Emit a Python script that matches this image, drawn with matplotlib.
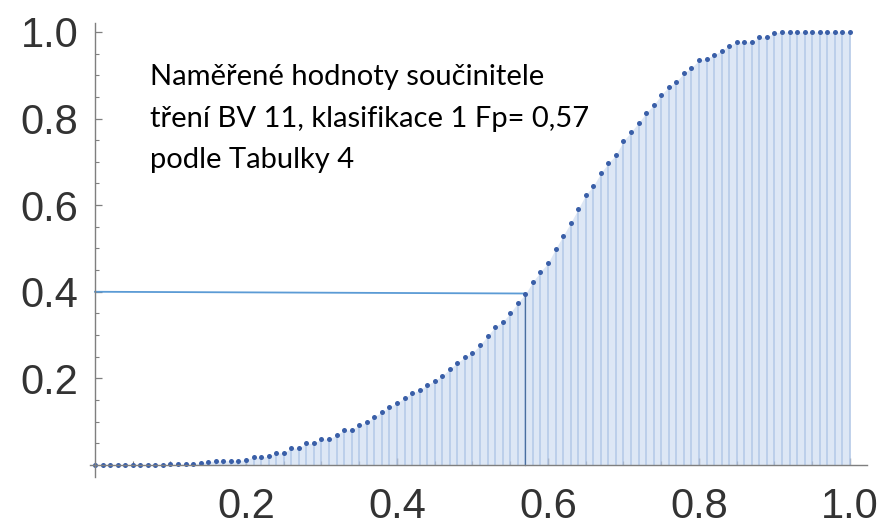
import numpy as np
import matplotlib.pyplot as plt
from matplotlib.ticker import MultipleLocator

# measured values (x step 0.01)
x_vals = np.round(np.arange(0, 101) * 0.01, 2)
y_vals = [
    0.0, 0.0, 0.0, 0.0, 0.0, 0.0, 0.0, 0.0, 0.0, 0.0,
    0.002, 0.002, 0.003, 0.003, 0.005, 0.008, 0.009, 0.010, 0.010, 0.010,
    0.012, 0.018, 0.018, 0.020, 0.028, 0.028, 0.039, 0.039, 0.050, 0.050,
    0.060, 0.060, 0.069, 0.081, 0.081, 0.092, 0.099, 0.111, 0.122, 0.134,
    0.143, 0.155, 0.166, 0.173, 0.185, 0.194, 0.206, 0.222, 0.236, 0.249,
    0.259, 0.277, 0.298, 0.319, 0.330, 0.351, 0.374, 0.395, 0.423, 0.446,
    0.466, 0.499, 0.529, 0.559, 0.591, 0.624, 0.644, 0.674, 0.697, 0.716,
    0.748, 0.769, 0.790, 0.813, 0.831, 0.855, 0.873, 0.885, 0.905, 0.917,
    0.935, 0.938, 0.947, 0.956, 0.968, 0.977, 0.977, 0.977, 0.988, 0.988,
    0.998, 1.0, 1.0, 1.0, 1.0, 1.0, 1.0, 1.0, 1.0, 1.0,
    1.0,
]
fp = 0.57
level = 0.40
note = "Naměřené hodnoty součinitele\ntření BV 11, klasifikace 1 Fp= 0,57\npodle Tabulky 4"
tick_labels = ['0.2', '0.4', '0.6', '0.8', '1.0']
tick_vals = [0.2, 0.4, 0.6, 0.8, 1.0]

fig = plt.figure(figsize=(8.9, 5.28), dpi=100)
ax = fig.add_axes([0.1011, 0.0966, 0.873, 0.86])

ax.fill_between(x_vals, 0, y_vals, color='#dde7f5', lw=0, zorder=1)
ax.vlines(x_vals, 0, y_vals, color='#b3c8e7', lw=1.1, zorder=2)
ax.plot(x_vals, y_vals, 'o', ms=3.6, color='#3a5fa8', mec='none', zorder=4)

# reading lines
ax.plot([0, fp], [level, level - 0.004], color='#5b9bd5', lw=1.3, zorder=3)
ax.plot([fp, fp], [0, level - 0.004], color='#4a6f9f', lw=0.9, zorder=3)

ax.text(0.073, 0.925, note, fontsize=21, family=['Lato', 'DejaVu Sans'],
        va='top', ha='left', linespacing=1.72, color='black')

ax.set_xlim(-0.0066, 1.0225)
ax.set_ylim(-0.0277, 1.0208)
for s in ['top', 'right']:
    ax.spines[s].set_visible(False)
ax.spines['left'].set_position(('data', 0))
ax.spines['bottom'].set_position(('data', 0))
for s in ['left', 'bottom']:
    ax.spines[s].set_color('#7f7f7f')
    ax.spines[s].set_linewidth(1.0)
    ax.spines[s].set_zorder(5)

ax.xaxis.set_minor_locator(MultipleLocator(0.05))
ax.yaxis.set_minor_locator(MultipleLocator(0.05))
ax.set_xticks(tick_vals)
ax.set_xticklabels(tick_labels)
ax.set_yticks(tick_vals)
ax.set_yticklabels(tick_labels)
ax.tick_params(which='major', direction='in', length=5, width=0.9, color='#7f7f7f',
               labelsize=30, labelcolor='#333333')
ax.tick_params(which='minor', direction='in', length=3, width=0.8, color='#7f7f7f')
ax.tick_params(axis='x', which='major', pad=16)
ax.tick_params(axis='y', which='major', pad=12)
for lab in ax.get_xticklabels() + ax.get_yticklabels():
    lab.set_family(['Liberation Sans', 'DejaVu Sans'])

fig.savefig('out.png', dpi=100)
